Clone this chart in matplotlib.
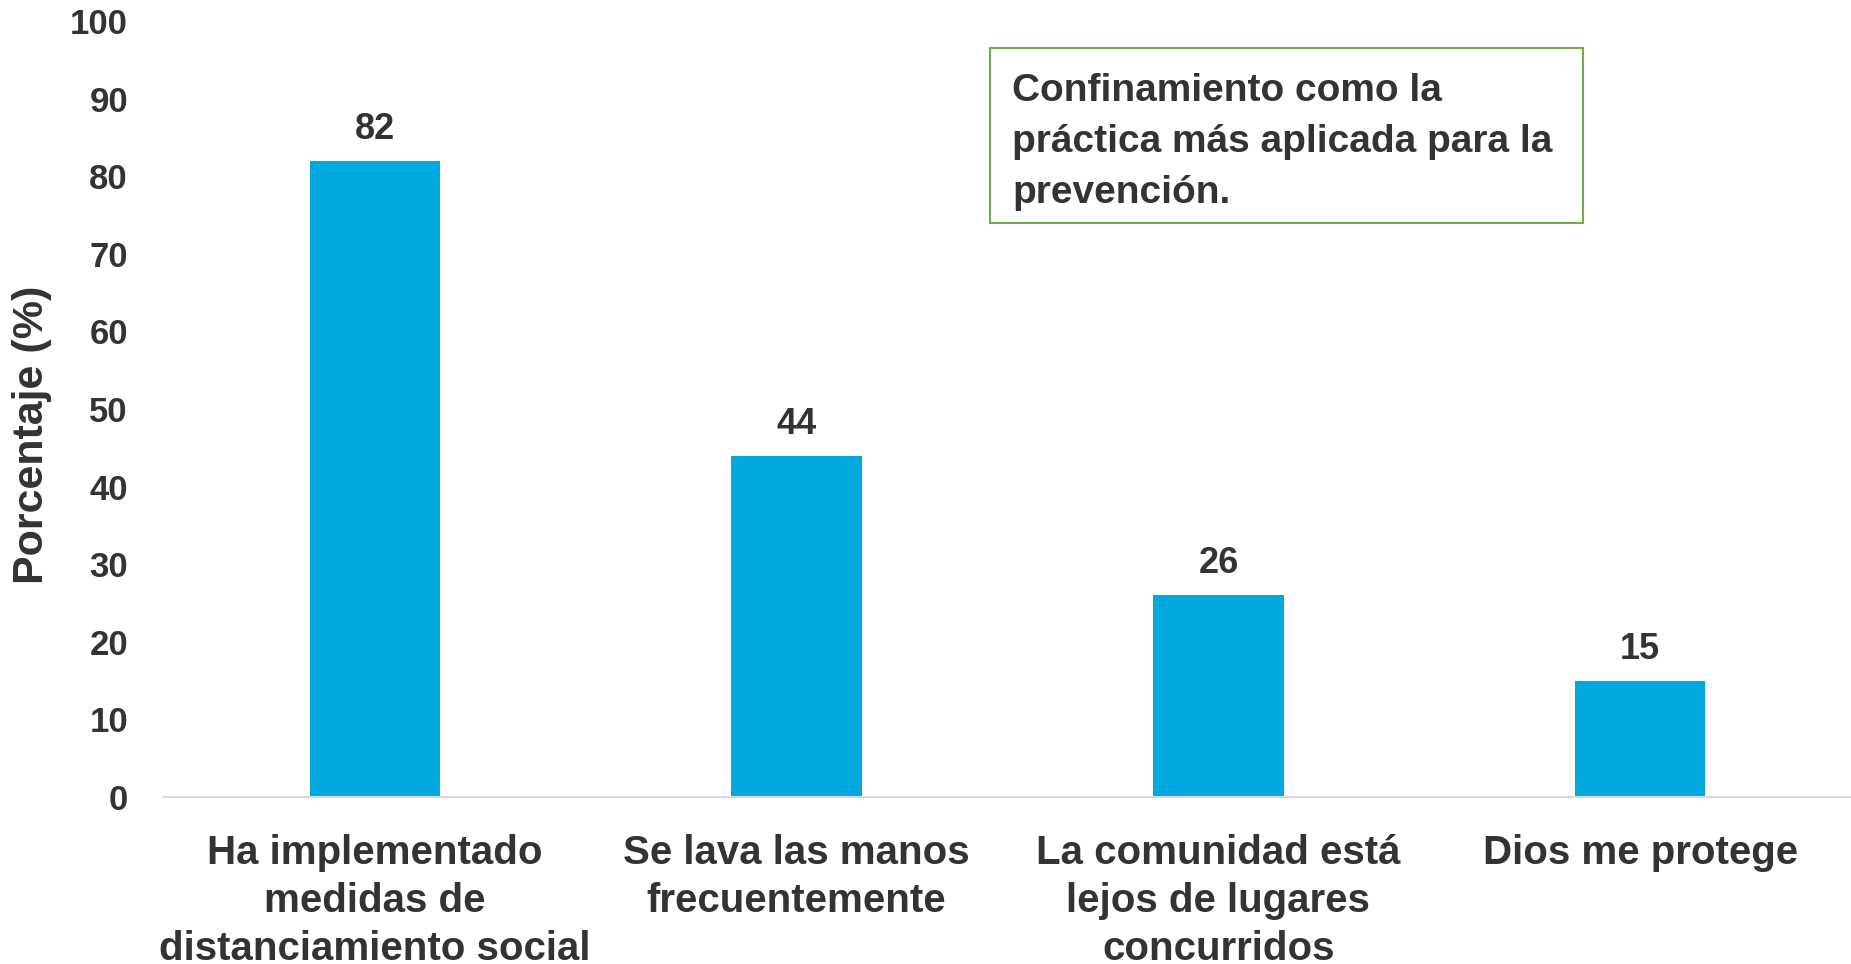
import matplotlib
matplotlib.use("Agg")
import matplotlib.pyplot as plt
from matplotlib.patches import Rectangle

categories = [
    "Ha implementado\nmedidas de\ndistanciamiento social",
    "Se lava las manos\nfrecuentemente",
    "La comunidad está\nlejos de lugares\nconcurridos",
    "Dios me protege",
]
values = [82, 44, 26, 15]
yticks = [0, 10, 20, 30, 40, 50, 60, 70, 80, 90, 100]
ylabel = "Porcentaje (%)"
note = "Confinamiento como la\npráctica más aplicada para la\nprevención."

NARROW = ["Liberation Sans Narrow", "Liberation Sans", "DejaVu Sans"]
BOLD = ["Liberation Sans", "DejaVu Sans"]
TXT = "#333333"
BAR = "#00A8E0"

fig = plt.figure(figsize=(18.51, 9.64), dpi=100)
ax = fig.add_axes([164/1851, 1-797/964, 1-164/1851, (797-21)/964])

x = list(range(len(categories)))
bars = ax.bar(x, values, width=0.31, color=BAR, zorder=2)
ax.set_xlim(-0.5, len(categories) - 0.5)
ax.set_ylim(0, 100)
ax.set_yticks(yticks)
ax.set_yticklabels([str(t) for t in yticks], family=BOLD, fontweight="bold",
                   fontsize=25, color=TXT)
ax.set_xticks(x)
ax.set_xticklabels(categories, family=NARROW, fontweight="bold", fontsize=29,
                   color=TXT, linespacing=1.32)
ax.tick_params(axis="y", length=0, pad=26)
ax.tick_params(axis="x", length=0, pad=27)

for s in ["top", "right", "left"]:
    ax.spines[s].set_visible(False)
ax.spines["bottom"].set_color("#D9D9D9")
ax.spines["bottom"].set_linewidth(1.5)

for xi, v in zip(x, values):
    ax.annotate(str(v), (xi, v), xytext=(0, 10), textcoords="offset points",
                ha="center", va="bottom", family=BOLD, fontweight="bold",
                fontsize=26, color=TXT)

fig.text(12/1851, 1-435/964, ylabel, rotation=90, ha="left", va="center",
         family=BOLD, fontweight="bold", fontsize=31, color=TXT)

# note box
bl, br, bt, bb = 990/1851, 1583/1851, 1-48/964, 1-223/964
fig.patches.append(Rectangle((bl, bb), br-bl, bt-bb, transform=fig.transFigure,
                             facecolor="white", edgecolor="#70AD47", linewidth=1.5))
fig.text(1012/1851, 1-142/964, note, ha="left", va="center", family=NARROW,
         fontweight="bold", fontsize=28, color=TXT, linespacing=1.55)

fig.savefig("out.png", dpi=100)
